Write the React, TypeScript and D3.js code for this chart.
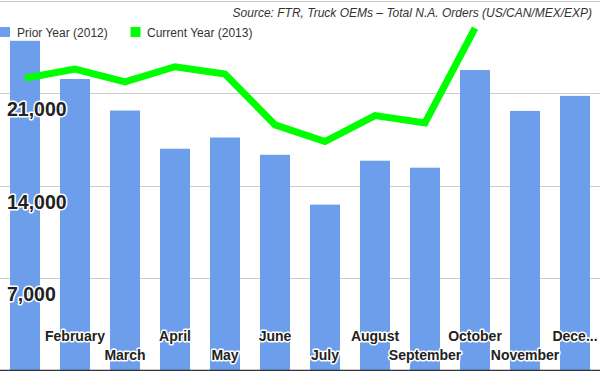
import React, { useMemo } from "react";
import * as d3 from "d3";

const WIDTH = 600;
const HEIGHT = 371;

const months = [
  "January", "February", "March", "April", "May", "June",
  "July", "August", "September", "October", "November", "December",
];
const priorYear = [24980, 22080, 19690, 16790, 17640, 16330, 12550, 15880, 15350, 22760, 19660, 20800];
const currentYear = [22140, 22840, 21860, 23010, 22460, 18600, 17340, 19310, 18750, 25940];
const yTicks = [7000, 14000, 21000, 28000];
const yTickLabels = ["7,000", "14,000", "21,000", ""];
const seriesNames = ["Prior Year (2012)", "Current Year (2013)"];
const sourceNote = "Source: FTR, Truck OEMs – Total N.A. Orders (US/CAN/MEX/EXP)";

const BAR_COLOR = "#6d9eeb";
const LINE_COLOR = "#00ff00";
const FONT = "'Liberation Sans', Arial, sans-serif";

// last label gets cut off at the right edge like the original
const shortLabel = (m: string, i: number) =>
  i === months.length - 1 ? m.slice(0, 4) + "..." : m;

const App = () => {
  const x = useMemo(
    () => d3.scaleBand<string>().domain(months).range([0, WIDTH]).paddingInner(0.4).paddingOuter(0.2),
    []
  );
  const y = useMemo(() => d3.scaleLinear().domain([0, 28000]).range([370, 1]), []);

  const linePath = useMemo(() => {
    const gen = d3
      .line<number>()
      .x((_, i) => (x(months[i]) as number) + x.bandwidth() / 2)
      .y((d) => y(d));
    return gen(currentYear) || "";
  }, [x, y]);

  return (
    <svg
      width={WIDTH}
      height={HEIGHT}
      style={{ position: "absolute", left: 0, top: 0, background: "#fff", fontFamily: FONT }}
    >
      {/* gridlines */}
      {yTicks.map((t) => (
        <line key={t} x1={0} x2={WIDTH} y1={Math.round(y(t)) + 0.5} y2={Math.round(y(t)) + 0.5} stroke="#cccccc" strokeWidth={1} />
      ))}

      {/* bars */}
      {priorYear.map((v, i) => (
        <rect
          key={months[i]}
          x={x(months[i])}
          y={y(v)}
          width={x.bandwidth()}
          height={y(0) - y(v)}
          fill={BAR_COLOR}
        />
      ))}

      {/* baseline */}
      <line x1={0} x2={WIDTH} y1={y(0) + 0.5} y2={y(0) + 0.5} stroke="#333" strokeWidth={1.5} />

      {/* current year line */}
      <path d={linePath} fill="none" stroke={LINE_COLOR} strokeWidth={7} strokeLinejoin="miter" />

      {/* y labels */}
      {yTicks.map((t, i) =>
        yTickLabels[i] ? (
          <text
            key={t}
            x={7}
            y={y(t) + 23}
            fontSize={19.5}
            fontWeight="bold"
            fill="#222"
            stroke="#fff"
            strokeWidth={3}
            paintOrder="stroke"
            strokeLinejoin="round"
          >
            {yTickLabels[i]}
          </text>
        ) : null
      )}

      {/* x labels, staggered; January is dropped */}
      {months.map((m, i) =>
        i === 0 ? null : (
          <text
            key={m}
            x={(x(m) as number) + x.bandwidth() / 2}
            y={i % 2 === 1 ? 341 : 359.5}
            textAnchor="middle"
            fontSize={14}
            fontWeight="bold"
            fill="#222"
            stroke="#fff"
            strokeWidth={3}
            paintOrder="stroke"
            strokeLinejoin="round"
          >
            {shortLabel(m, i)}
          </text>
        )
      )}

      {/* legend */}
      <rect x={0} y={27} width={10} height={10} fill={BAR_COLOR} />
      <text x={17} y={36.5} fontSize={12} fill="#333">{seriesNames[0]}</text>
      <rect x={130.5} y={27} width={10} height={10} fill={LINE_COLOR} />
      <text x={147} y={36.5} fontSize={12} fill="#333">{seriesNames[1]}</text>

      {/* source */}
      <text x={592} y={17} fontSize={12} fontStyle="italic" textAnchor="end" fill="#333">
        {sourceNote}
      </text>
    </svg>
  );
};

export default App;
